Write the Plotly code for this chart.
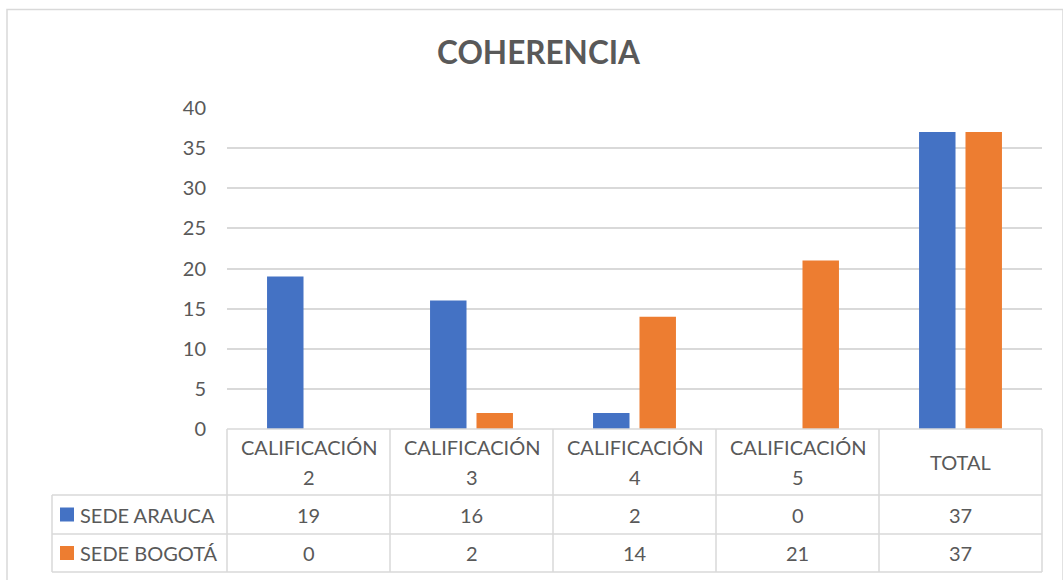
import plotly.graph_objects as go

categories = ["CALIFICACIÓN 2", "CALIFICACIÓN 3", "CALIFICACIÓN 4", "CALIFICACIÓN 5", "TOTAL"]
header_labels = ["CALIFICACIÓN<br>2", "CALIFICACIÓN<br>3", "CALIFICACIÓN<br>4", "CALIFICACIÓN<br>5", "TOTAL"]
series_names = ["SEDE ARAUCA", "SEDE BOGOTÁ"]
arauca = [19, 16, 2, 0, 37]
bogota = [0, 2, 14, 21, 37]
colors = ["#4472C4", "#ED7D31"]
y_ticks = [0, 5, 10, 15, 20, 25, 30, 35, 40]

W, H = 1063, 580
FONT = "Lato"
TXT = "#595959"
GRID = "#d9d9d9"
FS = 20

def px(x):
    return x / W

def py(y):
    return 1 - y / H

x0, x1 = 227, 1042
ytop, ybot = 108, 429

fig = go.Figure()
for name, vals, c in zip(series_names, [arauca, bogota], colors):
    fig.add_trace(go.Bar(x=list(range(len(categories))), y=vals, name=name,
                         marker=dict(color=c, line=dict(width=0)), showlegend=False,
                         hoverinfo="skip"))

fig.update_layout(
    width=W, height=H, autosize=False, showlegend=False,
    margin=dict(l=0, r=0, t=0, b=0, pad=0, autoexpand=False),
    paper_bgcolor="white", plot_bgcolor="white",
    barmode="group", bargap=0.43, bargroupgap=0.215,
    font=dict(family=FONT, color=TXT, size=FS),
    title=dict(text="<b>COHERENCIA</b>", x=538.5 / W, xanchor="center",
               y=py(53), yanchor="middle", automargin=False,
               font=dict(family=FONT, size=31.5, color=TXT)),
    xaxis=dict(domain=[px(x0), px(x1)], range=[-0.5, len(categories) - 0.5],
               showticklabels=False, showgrid=False, zeroline=False, showline=False,
               ticks="", automargin=False, fixedrange=True),
    yaxis=dict(domain=[py(ybot), py(ytop)], range=[0, 40], tickvals=y_ticks,
               showgrid=True, gridcolor=GRID, gridwidth=1.5, zeroline=False,
               showline=False, ticks="", ticklabelstandoff=20, automargin=False,
               fixedrange=True,
               tickfont=dict(family=FONT, size=FS, color=TXT)),
)

shapes = []
line = dict(color=GRID, width=1.5)
# outer chart border
shapes.append(dict(type="rect", xref="paper", yref="paper", x0=px(7), x1=px(1063),
                   y0=py(585), y1=py(9.5), line=dict(color=GRID, width=1.5)))
cat_w = (x1 - x0) / len(categories)
row_y = [429, 495, 534, 572]
# vertical lines of table
for i in range(len(categories) + 1):
    xv = x0 + i * cat_w
    shapes.append(dict(type="line", xref="paper", yref="paper", x0=px(xv), x1=px(xv),
                       y0=py(row_y[0]), y1=py(row_y[-1]), line=line))
shapes.append(dict(type="line", xref="paper", yref="paper", x0=px(52), x1=px(52),
                   y0=py(row_y[1]), y1=py(row_y[-1]), line=line))
# horizontal lines
shapes.append(dict(type="line", xref="paper", yref="paper", x0=px(x0), x1=px(x1),
                   y0=py(row_y[0]), y1=py(row_y[0]), line=line))
for yy in row_y[1:]:
    shapes.append(dict(type="line", xref="paper", yref="paper", x0=px(52), x1=px(x1),
                       y0=py(yy), y1=py(yy), line=line))
# legend keys
for r, c in enumerate(colors):
    yc = (row_y[r + 1] + row_y[r + 2]) / 2
    shapes.append(dict(type="rect", xref="paper", yref="paper", x0=px(60), x1=px(74),
                       y0=py(yc + 7), y1=py(yc - 7), fillcolor=c, line=dict(width=0)))

ann = []
header_mid = (row_y[0] + row_y[1]) / 2
line_gap = 30
for i, lab in enumerate(header_labels):
    xc = x0 + (i + 0.5) * cat_w
    parts = lab.split("<br>")
    n = len(parts)
    for k, part in enumerate(parts):
        yk = header_mid + (k - (n - 1) / 2) * line_gap
        ann.append(dict(xref="paper", yref="paper", x=px(xc), y=py(yk),
                        text=part, showarrow=False, xanchor="center", yanchor="middle",
                        font=dict(family=FONT, size=FS, color=TXT)))
for r, (name, vals) in enumerate(zip(series_names, [arauca, bogota])):
    yc = (row_y[r + 1] + row_y[r + 2]) / 2
    ann.append(dict(xref="paper", yref="paper", x=px(78), y=py(yc), text=name,
                    showarrow=False, xanchor="left", yanchor="middle",
                    font=dict(family=FONT, size=FS, color=TXT)))
    for i, v in enumerate(vals):
        xc = x0 + (i + 0.5) * cat_w
        ann.append(dict(xref="paper", yref="paper", x=px(xc), y=py(yc), text=str(v),
                        showarrow=False, xanchor="center", yanchor="middle",
                        font=dict(family=FONT, size=FS, color=TXT)))

fig.update_layout(shapes=shapes, annotations=ann)
fig.write_html("out.html", config={"displayModeBar": False, "responsive": False},
               post_script="document.body.style.margin='0';document.body.style.overflow='hidden';")
